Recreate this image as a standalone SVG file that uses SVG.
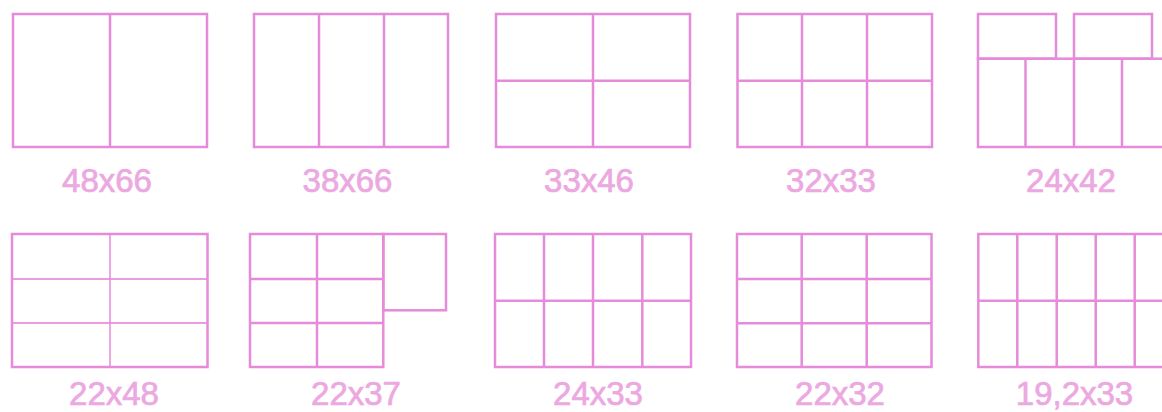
<svg xmlns="http://www.w3.org/2000/svg" width="1162" height="412" viewBox="0 0 1162 412">
<style>
.f{fill:none;stroke:#e68bd9;stroke-width:2.5}
.t{fill:#eca8e0;stroke:#eca8e0;stroke-width:0.7;font-family:"Liberation Sans",Arial,sans-serif;font-size:33px;text-anchor:middle}
.thin{stroke-width:1.8;opacity:0.85}
</style>
<rect width="1162" height="412" fill="#ffffff"/>
<g id="n1">
<rect class="f" x="13" y="14" width="194" height="133"/>
<line class="f" x1="110" y1="14" x2="110" y2="147"/>
<text class="t" x="107" y="192">48x66</text>
</g>
<g id="n2">
<rect class="f" x="254" y="14" width="194" height="133"/>
<line class="f" x1="319" y1="14" x2="319" y2="147"/>
<line class="f" x1="384" y1="14" x2="384" y2="147"/>
<text class="t" x="347.5" y="192">38x66</text>
</g>
<g id="n3">
<rect class="f" x="496" y="14" width="194" height="133"/>
<line class="f" x1="593" y1="14" x2="593" y2="147"/>
<line class="f" x1="496" y1="80.7" x2="690" y2="80.7"/>
<text class="t" x="589" y="192">33x46</text>
</g>
<g id="n4">
<rect class="f" x="737.5" y="14" width="194.5" height="133"/>
<line class="f" x1="802" y1="14" x2="802" y2="147"/>
<line class="f" x1="867" y1="14" x2="867" y2="147"/>
<line class="f" x1="737.5" y1="80.7" x2="932" y2="80.7"/>
<text class="t" x="831" y="192">32x33</text>
</g>
<g id="n5">
<rect class="f" x="978" y="14" width="78" height="44.7"/>
<rect class="f" x="1074" y="14" width="78" height="44.7"/>
<rect class="f" x="978" y="58.7" width="194" height="88.3"/>
<line class="f" x1="1025.5" y1="58.7" x2="1025.5" y2="147"/>
<line class="f" x1="1074" y1="58.7" x2="1074" y2="147"/>
<line class="f" x1="1122" y1="58.7" x2="1122" y2="147"/>
<text class="t" x="1071" y="192">24x42</text>
</g>
<g id="n6">
<rect class="f" x="12" y="234" width="195.5" height="133"/>
<line class="f thin" x1="110" y1="234" x2="110" y2="367"/>
<line class="f thin" x1="12" y1="279" x2="207.5" y2="279"/>
<line class="f thin" x1="12" y1="323" x2="207.5" y2="323"/>
<text class="t" x="114" y="405">22x48</text>
</g>
<g id="n7">
<rect class="f" x="250" y="234" width="133.3" height="133"/>
<line class="f" x1="317" y1="234" x2="317" y2="367"/>
<line class="f" x1="250" y1="279" x2="383.3" y2="279"/>
<line class="f" x1="250" y1="323" x2="383.3" y2="323"/>
<rect class="f" x="383.3" y="234" width="62.7" height="76.3"/>
<text class="t" x="356" y="405">22x37</text>
</g>
<g id="n8">
<rect class="f" x="495" y="234" width="196" height="133"/>
<line class="f" x1="544" y1="234" x2="544" y2="367"/>
<line class="f" x1="593" y1="234" x2="593" y2="367"/>
<line class="f" x1="642.3" y1="234" x2="642.3" y2="367"/>
<line class="f" x1="495" y1="300.7" x2="691" y2="300.7"/>
<text class="t" x="598" y="405">24x33</text>
</g>
<g id="n9">
<rect class="f" x="737" y="234" width="194.5" height="133"/>
<line class="f" x1="801.7" y1="234" x2="801.7" y2="367"/>
<line class="f" x1="866.7" y1="234" x2="866.7" y2="367"/>
<line class="f" x1="737" y1="279" x2="931.5" y2="279"/>
<line class="f" x1="737" y1="323.3" x2="931.5" y2="323.3"/>
<text class="t" x="840" y="405">22x32</text>
</g>
<g id="n10">
<rect class="f" x="978.3" y="234" width="195" height="133"/>
<line class="f" x1="1017.3" y1="234" x2="1017.3" y2="367"/>
<line class="f" x1="1056.7" y1="234" x2="1056.7" y2="367"/>
<line class="f" x1="1095.7" y1="234" x2="1095.7" y2="367"/>
<line class="f" x1="1134.7" y1="234" x2="1134.7" y2="367"/>
<line class="f" x1="978.3" y1="300.7" x2="1173.3" y2="300.7"/>
<text class="t" x="1074.5" y="405">19,2x33</text>
</g>
</svg>
